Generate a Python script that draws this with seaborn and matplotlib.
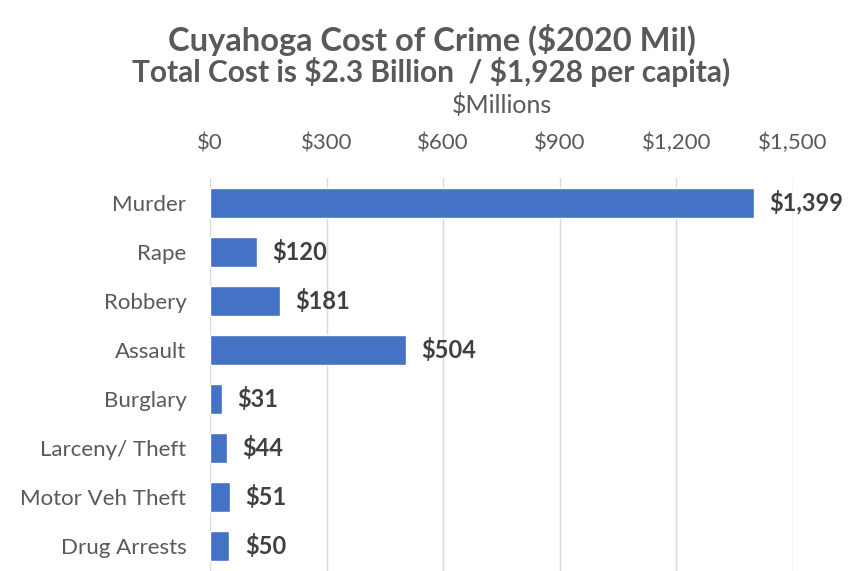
import matplotlib
matplotlib.use("Agg")
import matplotlib.pyplot as plt
import seaborn as sns
import pandas as pd

categories = ["Murder", "Rape", "Robbery", "Assault", "Burglary",
              "Larceny/ Theft", "Motor Veh Theft", "Drug Arrests"]
costs = [1399, 120, 181, 504, 31, 44, 51, 50]
x_ticks = [0, 300, 600, 900, 1200, 1500]
x_tick_labels = ["$0", "$300", "$600", "$900", "$1,200", "$1,500"]

sns.set_theme(style="white")
plt.rcParams["font.family"] = ["Lato", "DejaVu Sans"]
plt.rcParams["text.parse_math"] = False

text_color = "#595959"
bar_color = "#4472C4"

df = pd.DataFrame({"Crime": categories, "Cost": costs})

fig = plt.figure(figsize=(8.63, 5.71), dpi=100)
ax = fig.add_axes([210 / 863, 0.0, 583 / 863, 1 - 178 / 571])

sns.barplot(data=df, x="Cost", y="Crime", orient="h", color=bar_color,
            saturation=1, width=0.61, ax=ax, zorder=3)

ax.set_xlim(0, 1500)
ax.set_ylim(7.5, -0.5)
ax.set_xticks(x_ticks)
ax.set_xticklabels(x_tick_labels)
ax.xaxis.tick_top()
ax.xaxis.set_label_position("top")
ax.set_xlabel("$Millions", fontsize=18, color=text_color, labelpad=14)
ax.set_ylabel("")
ax.tick_params(axis="x", length=0, pad=18, labelsize=16, labelcolor=text_color)
ax.tick_params(axis="y", length=0, pad=17, labelsize=16, labelcolor=text_color)

ax.grid(axis="x", color="#D9D9D9", linewidth=1, zorder=0)
ax.grid(axis="y", visible=False)
for side in ["top", "right", "bottom", "left"]:
    ax.spines[side].set_visible(False)

for i, v in enumerate(costs):
    ax.annotate(f"${v:,}", xy=(v, i), xytext=(11, 0), textcoords="offset points",
                ha="left", va="center", fontsize=17, fontweight="bold",
                color="#404040")

fig.text(0.5, 1 - 40 / 571, "Cuyahoga Cost of Crime ($2020 Mil)",
         ha="center", va="center", fontsize=23.5, fontweight="bold", color=text_color)
fig.text(0.5, 1 - 72 / 571, "Total Cost is $2.3 Billion  / $1,928 per capita)",
         ha="center", va="center", fontsize=21.5, fontweight="bold", color=text_color)

fig.savefig("out.png", dpi=100)
